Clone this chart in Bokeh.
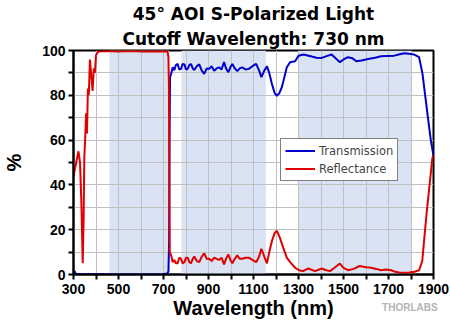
from bokeh.plotting import figure
from bokeh.models import FixedTicker, Title, Legend, LegendItem, LinearAxis
from bokeh.embed import file_html
from bokeh.resources import INLINE

title_line1 = "45° AOI S-Polarized Light"
title_line2 = "Cutoff Wavelength: 730 nm"
x_title = "Wavelength (nm)"
y_title = "%"
logo_text = "THORLABS"

x_ticks = [300, 500, 700, 900, 1100, 1300, 1500, 1700, 1900]
x_minor = [400, 600, 800, 1000, 1200, 1400, 1600, 1800]
y_ticks = [0, 20, 40, 60, 80, 100]
y_minor = [10, 30, 50, 70, 90]

shade_start = [460, 780, 1300]
shade_end = [725, 1155, 1800]

trans_wl = [300, 305, 310, 330, 400, 500, 600, 700, 718, 722, 725, 727, 729,
            734, 741, 748, 755, 763, 770, 778, 785, 793, 800, 807, 815, 822,
            830, 837, 848, 859, 870, 881, 892, 903, 914, 925, 936, 947, 958,
            969, 978, 988, 997, 1006, 1017, 1028, 1039, 1050, 1065, 1079,
            1095, 1112, 1125, 1135, 1148, 1160, 1170, 1182, 1194, 1204, 1215,
            1226, 1237, 1248, 1263, 1285, 1300, 1322, 1340, 1359, 1380, 1403,
            1425, 1447, 1465, 1484, 1500, 1520, 1540, 1557, 1580, 1609, 1640,
            1667, 1700, 1726, 1750, 1770, 1790, 1814, 1836, 1851, 1863, 1873,
            1888, 1900]
trans_val = [0.5, 1.5, 0.3, 0.2, 0.1, 0.1, 0.1, 0.2, 0.5, 1.5, 15, 60, 88,
             89.6, 92.5, 91.2, 93.5, 94, 91.5, 91.8, 94, 93.8, 91.5, 91.8, 93.5, 94,
             92, 91.3, 93, 93.8, 91, 89.6, 92, 91.8, 93, 91, 92, 92.5, 91.5,
             94.8, 92, 90.3, 92.5, 94, 92, 90.8, 92, 92.5, 91.5, 91.8,
             93, 94, 91, 88.1, 91, 92.9, 90, 85, 81, 79.8, 81,
             83.6, 88, 92.5, 94.8, 95.2, 97.7, 98.2, 97.8, 97.3, 96.8, 96.7,
             97.5, 98.2, 96.5, 94.8, 96, 97, 96.5, 95.2, 95.5, 96.2, 96.8,
             97.4, 97.6, 97.7, 98.3, 98.8, 98.5, 98.2, 97, 89.7, 80, 71.8,
             60, 53]

refl_wl = [300, 310, 322, 329, 335, 341, 345, 348, 352, 356, 360, 364, 368,
           373, 378, 385, 390, 395, 400, 410, 450, 500, 560, 600, 700, 718,
           722, 724, 726, 728, 734, 741, 748, 755, 763, 770, 778, 785, 793,
           800, 807, 815, 822, 830, 837, 848, 859, 870, 881, 892, 903, 914,
           925, 936, 947, 958, 969, 978, 988, 997, 1006, 1017, 1028, 1039,
           1050, 1065, 1079, 1095, 1112, 1125, 1135, 1148, 1160, 1170, 1182,
           1194, 1204, 1215, 1232, 1248, 1262, 1285, 1303, 1320, 1344, 1373,
           1403, 1420, 1440, 1460, 1484, 1500, 1520, 1545, 1572, 1600, 1623,
           1645, 1667, 1690, 1712, 1730, 1748, 1770, 1792, 1815, 1836, 1850,
           1858, 1870, 1880, 1895, 1900]
refl_val = [44, 49, 55, 50, 32, 5, 25, 52, 61, 72, 63, 83, 80,
            96, 90, 82, 92, 90, 98, 99.5, 99.8, 99.5, 99.8, 99.6, 99.7, 99.5,
            97, 85, 40, 10, 8.5, 5.5, 6.5, 5, 5, 7.5, 7, 5, 5.5,
            7.5, 7.5, 5.5, 5, 7, 8, 6, 5.5, 8, 9.5, 7, 7, 6,
            7.5, 7, 6.5, 7.5, 4.5, 7, 9, 6.5, 5, 7, 8.5, 7,
            7, 7.5, 7.5, 6.5, 5.5, 8, 11.5, 8, 5, 10, 15,
            18.5, 19.5, 17, 12, 7.5, 5.6, 3, 1.9, 1.5, 2.7, 1.5,
            2.7, 2, 1.5, 3, 4.9, 3, 1.9, 2.5, 3.8, 3.2, 3.0,
            2.5, 1.9, 2.2, 1.9, 1.2, 0.9, 0.8, 0.9, 1.2, 1.9, 6,
            15, 28, 37.6, 52, 53]

logo_pos = [1795]

FONT = "Liberation Sans"
TFONT = "DejaVu Sans"

p = figure(width=450, height=322, output_backend="svg", toolbar_location=None,
           x_range=(300, 1900), y_range=(0, 100),
           min_border_left=70, min_border_right=17, min_border_top=4,
           min_border_bottom=48)
p.background_fill_color = "white"
p.border_fill_color = "white"
p.outline_line_color = "black"
p.outline_line_width = 2

p.add_layout(Title(text=title_line2, text_font=TFONT, text_font_size="17px",
                   text_font_style="bold", align="center", text_color="black",
                   standoff=4), "above")
p.add_layout(Title(text=title_line1, text_font=TFONT, text_font_size="17px",
                   text_font_style="bold", align="center", text_color="black",
                   standoff=2), "above")

# shaded bands
p.quad(left=shade_start, right=shade_end, bottom=0, top=100,
       fill_color="#dae3f3", line_color=None, level="image")

xa = p.xaxis[0]
xa.ticker = FixedTicker(ticks=x_ticks, minor_ticks=x_minor)
ya = p.yaxis[0]
ya.ticker = FixedTicker(ticks=y_ticks, minor_ticks=y_minor)
for ax in (xa, ya):
    ax.axis_line_color = "black"
    ax.axis_line_width = 2
    ax.major_tick_line_color = "black"
    ax.major_tick_line_width = 2
    ax.minor_tick_line_color = "black"
    ax.minor_tick_line_width = 2
    ax.major_tick_out = 5
    ax.major_tick_in = 0
    ax.minor_tick_out = 5
    ax.minor_tick_in = 0
    ax.major_label_text_font = FONT
    ax.major_label_text_font_style = "bold"
    ax.major_label_text_font_size = "14px"
    ax.major_label_text_color = "black"
    ax.axis_label_text_font = FONT
    ax.axis_label_text_font_style = "bold"
    ax.axis_label_text_font_size = "20px"
    ax.axis_label_text_color = "black"
ya.axis_label = y_title
xa.major_label_standoff = 4
ya.major_label_standoff = 3
ya.axis_label_standoff = 14

# second (invisible-line) axis carrying the x title and the logo text
xb = LinearAxis(ticker=FixedTicker(ticks=logo_pos, minor_ticks=[]),
                major_label_overrides={logo_pos[0]: logo_text},
                axis_label=x_title)
xb.axis_line_color = None
xb.major_tick_line_color = None
xb.minor_tick_line_color = None
xb.major_tick_out = 0
xb.major_tick_in = 0
xb.minor_tick_out = 0
xb.minor_tick_in = 0
xb.major_label_standoff = 5
xb.major_label_text_font = FONT
xb.major_label_text_font_style = "bold"
xb.major_label_text_font_size = "10px"
xb.major_label_text_color = "#b4b4b4"
xb.axis_label_standoff = -19
xb.axis_label_text_font = FONT
xb.axis_label_text_font_style = "bold"
xb.axis_label_text_font_size = "20px"
xb.axis_label_text_color = "black"
p.add_layout(xb, "below")

p.xgrid.grid_line_color = "#c0c0c0"
p.xgrid.minor_grid_line_color = "#c0c0c0"
p.ygrid.grid_line_color = "#c0c0c0"
p.ygrid.minor_grid_line_color = "#c0c0c0"
p.xgrid.grid_line_width = 1
p.ygrid.grid_line_width = 1

r_t = p.line(trans_wl, trans_val, line_color="#0000cc", line_width=2)
r_r = p.line(refl_wl, refl_val, line_color="#e00000", line_width=2)

legend = Legend(items=[LegendItem(label="Transmission", renderers=[r_t]),
                       LegendItem(label="Reflectance", renderers=[r_r])],
                location=(207, 93), border_line_color="black",
                border_line_width=1, background_fill_color="white",
                background_fill_alpha=1, label_text_font=TFONT,
                label_text_font_size="11.5px", glyph_width=30, glyph_height=15,
                label_height=15, spacing=3, padding=4, margin=0,
                label_standoff=4)
p.add_layout(legend, "center")

open("out.html", "w").write(file_html(p, INLINE))
